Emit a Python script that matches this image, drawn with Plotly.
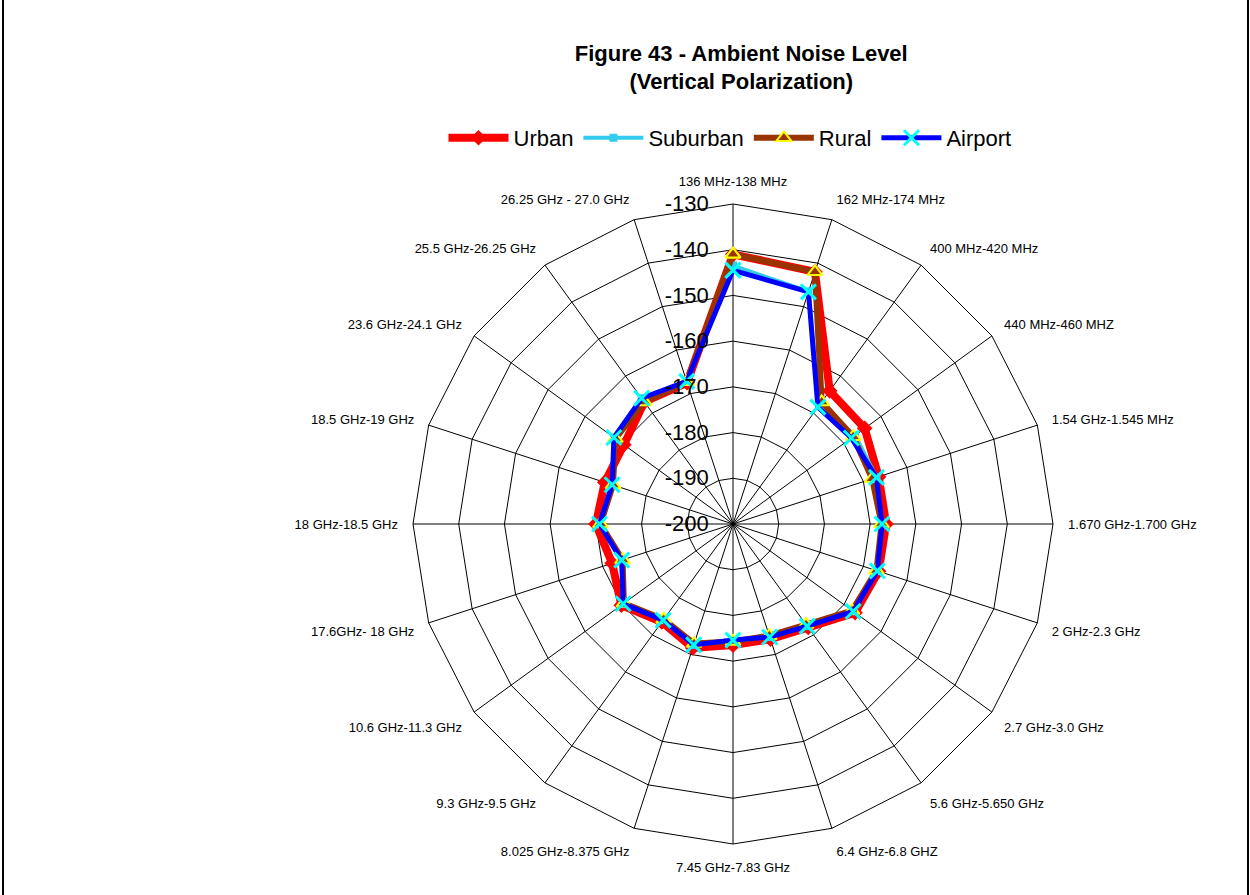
import plotly.graph_objects as go

# frequency bands, clockwise from the top
bands = [
    "136 MHz-138 MHz", "162 MHz-174 MHz", "400 MHz-420 MHz", "440 MHz-460 MHZ",
    "1.54 GHz-1.545 MHz", "1.670 GHz-1.700 GHz", "2 GHz-2.3 GHz", "2.7 GHz-3.0 GHz",
    "5.6 GHz-5.650 GHz", "6.4 GHz-6.8 GHZ", "7.45 GHz-7.83 GHz", "8.025 GHz-8.375 GHz",
    "9.3 GHz-9.5 GHz", "10.6 GHz-11.3 GHz", "17.6GHz- 18 GHz", "18 GHz-18.5 GHz",
    "18.5 GHz-19 GHz", "23.6 GHz-24.1 GHz", "25.5 GHz-26.25 GHz", "26.25 GHz - 27.0 GHz",
]

# noise level (dBm)
urban = [-141, -142, -164, -164.4, -166.5, -166.5, -166.5, -167, -172, -173.5,
         -173.5, -171.5, -173.5, -169.8, -172.2, -170, -170.5, -170.5, -167, -167.5]
suburban = [-143.5, -146.5, -168, -167, -167, -167.4, -166.8, -167.5, -172.4, -174,
            -174.6, -172.2, -174, -170.3, -174.4, -170.8, -172.2, -167.8, -166, -167.2]
rural = [-141, -142, -167, -167.5, -168, -167.5, -167, -167.8, -172.8, -174.3,
         -174.3, -172.5, -174.2, -170.5, -174.6, -171, -172.4, -168.2, -167, -167.3]
airport = [-144.5, -146.6, -168.4, -168, -167, -167.4, -166.8, -167.5, -172.4, -174,
           -174.6, -172.2, -174, -170.3, -174.4, -170.8, -172.2, -167.8, -166, -167.2]

radial_ticks = [-200, -190, -180, -170, -160, -150, -140, -130]

# plotly hides markers for negative radii, so plot relative to the -200 floor
floor = -200

series = [
    ("Urban", urban, dict(color="#ff0000", width=8),
     dict(symbol="diamond", size=12, color="#ff0000")),
    ("Suburban", suburban, dict(color="#33ccee", width=4),
     dict(symbol="square", size=8, color="#33ccee")),
    ("Rural", rural, dict(color="#993300", width=6),
     dict(symbol="triangle-up", size=13, color="#993300", line=dict(color="#ffff00", width=2))),
    ("Airport", airport, dict(color="#0000ff", width=5),
     dict(symbol="x-thin", size=15, color="#00ffff", line=dict(color="#00ffff", width=3))),
]

fig = go.Figure()
for name, vals, line, marker in series:
    r = [v - floor for v in vals]
    fig.add_trace(go.Scatterpolar(
        r=r + r[:1], theta=bands + bands[:1], name=name,
        mode="lines+markers", line=line, marker=marker,
        customdata=vals + vals[:1], hovertemplate="%{theta}: %{customdata} dB<extra>%{fullData.name}</extra>",
    ))

W, H = 1250, 895
cx, cy, R = 733, 524, 320
fig.update_layout(
    width=W, height=H,
    margin=dict(l=0, r=0, t=0, b=0),
    paper_bgcolor="white", plot_bgcolor="white",
    font=dict(family="Arial, Liberation Sans", color="black"),
    title=dict(text="<b>Figure 43 - Ambient Noise Level<br>(Vertical Polarization)</b>",
               x=0.593, xanchor="center", y=0.932, yanchor="top",
               font=dict(size=22, family="Arial, Liberation Sans")),
    legend=dict(orientation="h", x=0.584, xanchor="center", y=1 - 138 / H, yanchor="middle",
                font=dict(size=22), itemwidth=60, bgcolor="rgba(0,0,0,0)"),
    polar=dict(
        domain=dict(x=[(cx - R) / W, (cx + R) / W], y=[(H - cy - R) / H, (H - cy + R) / H]),
        gridshape="linear",
        bgcolor="white",
        radialaxis=dict(range=[0, -130 - floor], tickvals=[t - floor for t in radial_ticks],
                        ticktext=[str(t) for t in radial_ticks], angle=90,
                        tickangle=90, showline=False, gridcolor="black", gridwidth=1,
                        ticks="outside", ticklen=16, tickcolor="rgba(0,0,0,0)",
                        tickfont=dict(size=22), side="counterclockwise"),
        angularaxis=dict(rotation=90, direction="clockwise", linecolor="black",
                         linewidth=1, gridcolor="black", gridwidth=1, ticks="outside",
                         ticklen=12, tickcolor="rgba(0,0,0,0)", tickfont=dict(size=13)),
    ),
    shapes=[
        dict(type="line", xref="paper", yref="paper", x0=3 / W, x1=3 / W, y0=0, y1=1,
             line=dict(color="black", width=2)),
        dict(type="line", xref="paper", yref="paper", x0=1248 / W, x1=1248 / W, y0=0, y1=1,
             line=dict(color="black", width=2)),
    ],
)

fig.write_html("out.html", config={"displayModeBar": False},
               post_script="document.body.style.margin = '0';")
